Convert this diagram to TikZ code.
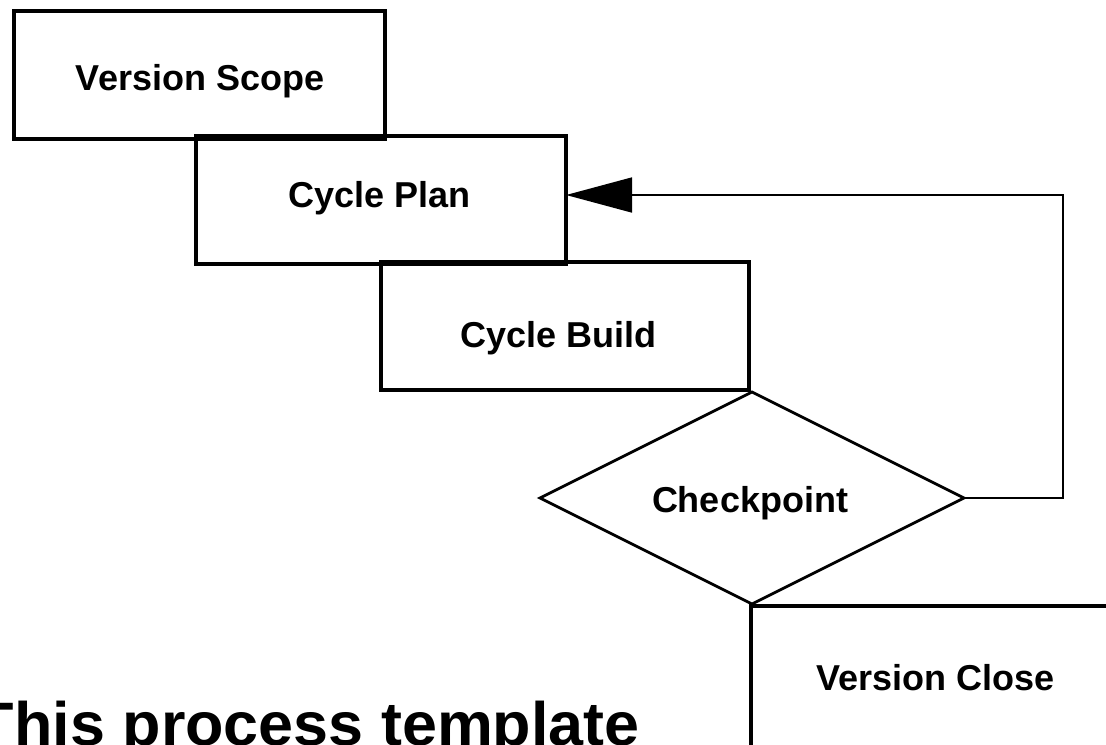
\documentclass[tikz,border=0pt]{standalone}
\usepackage{fontspec}
\setmainfont{Liberation Sans}
\usepackage{graphicx}
\usetikzlibrary{shapes.geometric,arrows.meta}
\begin{document}
\begin{tikzpicture}[x=0.75pt,y=-0.75pt,
  box/.style={draw, line width=2.4pt, rectangle, inner sep=0pt, outer sep=0pt},
  lbl/.style={font=\fontsize{27}{32}\selectfont\bfseries, text height=19.3pt, text depth=0pt, inner sep=0pt},
  loopline/.style={line width=2.1pt},
]
\useasboundingbox (0,0) rectangle (1106,744);
\clip (0,0) rectangle (1106,744);
\fill[white] (0,0) rectangle (1106,744);

\node[box, minimum width=278.25pt, minimum height=96pt,
  label={[lbl,xshift=0.4pt,yshift=-1.9pt]center:Version Scope}] (VS) at (199.5,75) {};
\node[box, minimum width=277.5pt, minimum height=96pt,
  label={[lbl,xshift=-1.1pt,yshift=3.7pt]center:Cycle Plan}] (CP) at (381,200) {};
\node[box, minimum width=276pt, minimum height=96pt,
  label={[lbl,xshift=-4.9pt,yshift=-6.4pt]center:Cycle Build}] (CB) at (565,326) {};
\node[diamond, draw, loopline, aspect=2, inner sep=0pt, outer sep=0pt, minimum width=318pt, minimum height=159pt,
  label={[lbl,xshift=-1.5pt,yshift=-1.1pt]center:Checkpoint}] (D) at (752,498) {};
\node[box, minimum width=276.75pt, minimum height=107.25pt,
  label={[lbl]center:Version Close}] (VC) at (935.5,677.5) {};

\coordinate (fb) at (1063,195);
\draw[loopline, -{Triangle[length=49.5pt,width=26pt]}] (D.east) -| (fb) -- (fb -| CP.east);

\node[anchor=base east, inner sep=0pt, font=\fontsize{46}{55}\selectfont\bfseries] (T) at (640,745)
  {\scalebox{1.025}[1]{This process template}};
\end{tikzpicture}
\end{document}
